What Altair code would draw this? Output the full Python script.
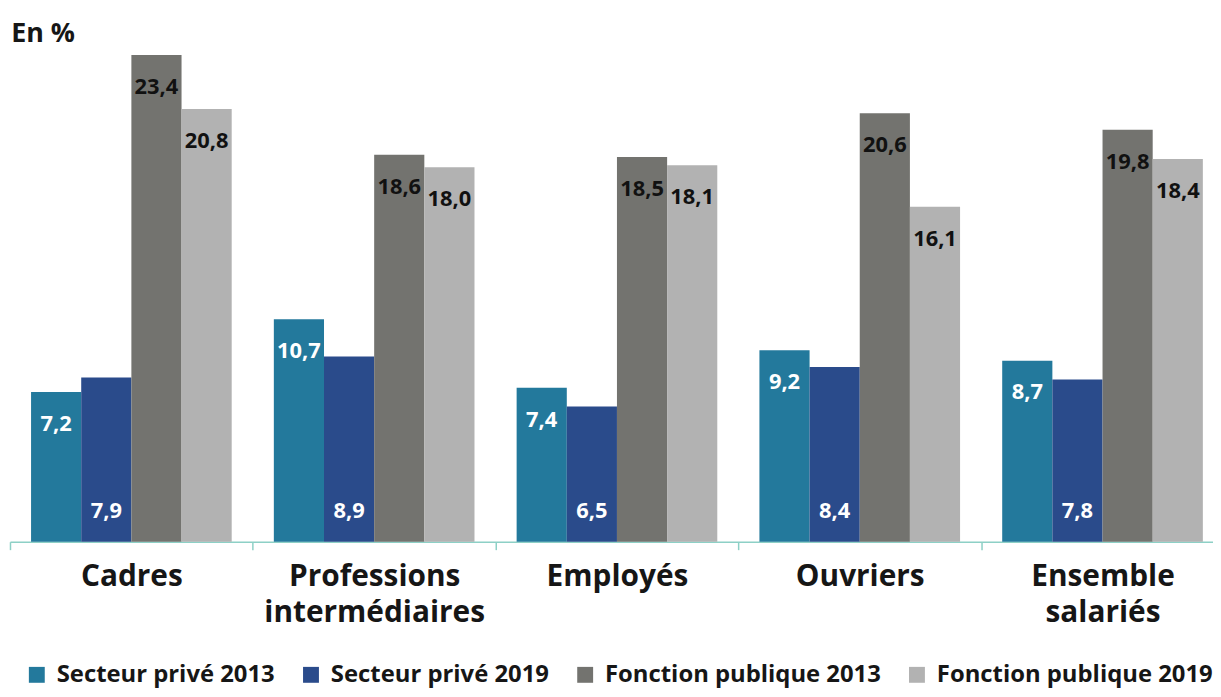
import altair as alt
import pandas as pd

categories = ["Cadres", "Professions|intermédiaires", "Employés", "Ouvriers", "Ensemble|salariés"]
series = ["Secteur privé 2013", "Secteur privé 2019", "Fonction publique 2013", "Fonction publique 2019"]
prive_2013 = [7.2, 10.7, 7.4, 9.2, 8.7]
prive_2019 = [7.9, 8.9, 6.5, 8.4, 7.8]
fp_2013 = [23.4, 18.6, 18.5, 20.6, 19.8]
fp_2019 = [20.8, 18.0, 18.1, 16.1, 18.4]
colors = ["#23799c", "#2a4b8b", "#73736f", "#b2b2b2"]

values = [prive_2013, prive_2019, fp_2013, fp_2019]
rows = []
for s, vals in zip(series, values):
    for c, v in zip(categories, vals):
        rows.append({"cat": c, "serie": s, "val": v})
df = pd.DataFrame(rows)

FONT = "Open Sans"

base = alt.Chart(df).transform_calculate(
    lab="replace(format(datum.val, '.1f'), '.', ',')", zero="0"
)

x_enc = alt.X(
    "cat:N",
    sort=categories,
    scale=alt.Scale(paddingInner=0, paddingOuter=0, range=[0, 1222]),
    axis=alt.Axis(
        title=None,
        labelExpr="split(datum.label, '|')",
        labelAngle=0,
        labelFont=FONT,
        labelFontSize=30,
        labelFontWeight="bold",
        labelColor="#161616",
        labelLineHeight=36,
        labelPadding=12,
        labelBaseline="top",
        domainColor="#8dd0c6",
        domainWidth=1.5,
        tickColor="#8dd0c6",
        tickWidth=1.5,
        tickSize=8,
        tickBand="extent",
        labelLimit=400,
    ),
)
xo_enc = alt.XOffset("serie:N", sort=series, scale=alt.Scale(paddingInner=0, paddingOuter=0.42))
y_scale = alt.Scale(domain=[0, 23.4], nice=False, zero=True)

bars = base.mark_bar().encode(
    x=x_enc,
    xOffset=xo_enc,
    y=alt.Y("val:Q", scale=y_scale, axis=None),
    color=alt.Color(
        "serie:N",
        sort=series,
        scale=alt.Scale(domain=series, range=colors),
        legend=alt.Legend(
            title=None,
            orient="none",
            legendX=15,
            legendY=612,
            direction="horizontal",
            symbolType="square",
            symbolSize=256,
            symbolStrokeWidth=0,
            symbolOpacity=1,
            labelFont=FONT,
            labelFontSize=24,
            labelFontWeight="bold",
            labelColor="#161616",
            labelOffset=8,
            columnPadding=24,
            labelLimit=500,
        ),
    ),
)

txt_kw = dict(font=FONT, fontSize=22, fontWeight="bold", baseline="middle", align="center")

top_white = base.transform_filter(alt.datum.serie == series[0]).mark_text(dy=32, color="white", **txt_kw).encode(
    x=alt.X("cat:N", sort=categories), xOffset=xo_enc, y=alt.Y("val:Q", scale=y_scale), text="lab:N"
)
bottom_white = base.transform_filter(alt.datum.serie == series[1]).mark_text(dy=-31, color="white", **txt_kw).encode(
    x=alt.X("cat:N", sort=categories), xOffset=xo_enc, y=alt.Y("zero:Q", scale=y_scale), text="lab:N"
)
top_black = base.transform_filter(
    (alt.datum.serie == series[2]) | (alt.datum.serie == series[3])
).mark_text(dy=32, color="#111111", **txt_kw).encode(
    x=alt.X("cat:N", sort=categories), xOffset=xo_enc, y=alt.Y("val:Q", scale=y_scale), text="lab:N"
)

chart = alt.layer(bars, top_white, bottom_white, top_black).properties(
    width=1211,
    height=490,
    title=alt.TitleParams(
        "En %", anchor="start", font=FONT, fontSize=27, fontWeight="bold", color="#161616",
        baseline="alphabetic", offset=15, dx=2, dy=29,
    ),
    autosize=alt.AutoSizeParams(type="none"),
    padding={"left": 2, "top": 45, "right": 0, "bottom": 146},
).configure(background="white").configure_view(stroke=None)

chart.save("out.html", embed_options={"renderer": "svg", "actions": False})
